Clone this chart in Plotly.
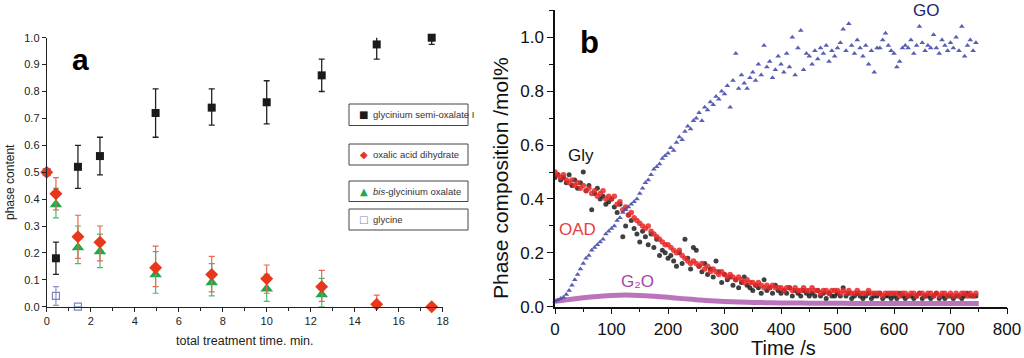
import plotly.graph_objects as go

# ---------------- Panel a data ----------------
gso_x = [0.42, 1.42, 2.42, 4.95, 7.5, 10, 12.5, 15, 17.5]
gso_y = [0.18, 0.52, 0.56, 0.72, 0.74, 0.76, 0.86, 0.975, 1.0]
gso_hi = [0.24, 0.60, 0.63, 0.81, 0.81, 0.84, 0.92, 1.025, 1.025]
gso_lo = [0.12, 0.44, 0.49, 0.63, 0.675, 0.68, 0.80, 0.92, 0.975]

oad_x = [0, 0.42, 1.42, 2.42, 4.95, 7.5, 10, 12.5, 15, 17.5]
oad_y = [0.50, 0.42, 0.26, 0.24, 0.145, 0.12, 0.104, 0.074, 0.009, 0.0]
oad_hi = [0.50, 0.48, 0.34, 0.30, 0.225, 0.187, 0.155, 0.135, 0.043, 0.0]
oad_lo = [0.50, 0.36, 0.18, 0.17, 0.075, 0.055, 0.05, 0.02, 0.0, 0.0]

bgo_x = [0.42, 1.42, 2.42, 4.95, 7.5, 10, 12.5]
bgo_y = [0.38, 0.22, 0.205, 0.12, 0.09, 0.067, 0.045]
bgo_hi = [0.44, 0.30, 0.27, 0.205, 0.16, 0.12, 0.105]
bgo_lo = [0.33, 0.16, 0.145, 0.05, 0.04, 0.02, 0.0]

gly_x = [0, 0.42, 1.42]
gly_y = [0.50, 0.04, 0.0]
gly_hi = [0.50, 0.075, 0.0]
gly_lo = [0.50, 0.005, 0.0]

legend_a = ["glycinium semi-oxalate I", "oxalic acid dihydrate",
            "<i>bis</i>-glycinium oxalate", "glycine"]
legend_sym = ["■", "◆", "▲", "□"]

# ---------------- Panel b data ----------------
t_go = [5 * i for i in range(150)]
go_v = [0.02, 0.025, 0.03, 0.035, 0.045, 0.06, 0.08, 0.10, 0.12, 0.14,
        0.16, 0.18, 0.19, 0.21, 0.22, 0.23, 0.24, 0.25, 0.27, 0.28,
        0.29, 0.30, 0.32, 0.33, 0.35, 0.36, 0.37, 0.38, 0.39, 0.40,
        0.42, 0.44, 0.46, 0.47, 0.49, 0.51, 0.52, 0.53, 0.55, 0.56,
        0.57, 0.59, 0.58, 0.61, 0.63, 0.62, 0.65, 0.67, 0.66, 0.69,
        0.70, 0.72, 0.69, 0.74, 0.73, 0.76, 0.75, 0.78, 0.77, 0.80,
        0.79, 0.82, 0.74, 0.84, 0.94, 0.81, 0.86, 0.83, 0.81, 0.85,
        0.87, 0.84, 0.90, 0.86, 0.97, 0.89, 0.91, 0.85, 0.88, 0.93,
        0.90, 0.87, 0.94, 0.89, 1.00, 0.86, 0.96, 1.025, 0.88, 0.94,
        0.93, 0.90, 0.95, 0.92, 0.96, 0.94, 0.97, 0.91, 0.95, 0.93,
        0.96, 0.98, 1.03, 0.95, 1.05, 0.97, 0.94, 0.99, 0.96, 0.93,
        0.97, 0.90, 0.95, 0.87, 0.96, 0.96, 0.99, 1.015, 0.97, 0.95,
        0.94, 0.89, 0.91, 0.96, 0.97, 0.96, 0.99, 0.94, 0.97, 1.04,
        0.98, 0.95, 0.97, 0.96, 1.01, 0.96, 0.94, 0.99, 0.97, 0.95,
        0.98, 0.96, 1.00, 0.95, 1.04, 0.93, 0.97, 0.99, 0.95, 0.98]

t_gly = [5 * i for i in range(150)]
gly_v = [0.48, 0.49, 0.47, 0.48, 0.46, 0.49, 0.45, 0.47, 0.44, 0.46,
         0.50, 0.43, 0.45, 0.36, 0.42, 0.44, 0.40, 0.41, 0.38, 0.39,
         0.40, 0.37, 0.35, 0.38, 0.26, 0.30, 0.34, 0.32, 0.29, 0.27,
         0.24, 0.28, 0.26, 0.23, 0.27, 0.22, 0.25, 0.19, 0.21, 0.20,
         0.18, 0.19, 0.17, 0.15, 0.20, 0.16, 0.25, 0.18, 0.14, 0.22,
         0.21, 0.15, 0.13, 0.16, 0.12, 0.14, 0.11, 0.17, 0.13, 0.09,
         0.12, 0.10, 0.11, 0.08, 0.10, 0.07, 0.09, 0.11, 0.08, 0.07,
         0.06, 0.08, 0.07, 0.05, 0.10, 0.06, 0.07, 0.05, 0.08, 0.06,
         0.05, 0.06, 0.05, 0.07, 0.04, 0.06, 0.05, 0.04, 0.06, 0.05,
         0.04, 0.05, 0.04, 0.06, 0.04, 0.05, 0.03, 0.05, 0.04, 0.04,
         0.05, 0.04, 0.07, 0.04, 0.05, 0.03, 0.04, 0.05, 0.04, 0.03,
         0.04, 0.05, 0.03, 0.04, 0.04, 0.05, 0.03, 0.04, 0.04, 0.03,
         0.04, 0.03, 0.05, 0.04, 0.03, 0.04, 0.04, 0.03, 0.04, 0.05,
         0.03, 0.04, 0.04, 0.03, 0.04, 0.05, 0.03, 0.04, 0.03, 0.04,
         0.04, 0.03, 0.04, 0.04, 0.03, 0.04, 0.05, 0.04, 0.04, 0.04]

t_oad = [5 * i for i in range(150)]
oad_v = [0.50, 0.49, 0.48, 0.49, 0.47, 0.46, 0.47, 0.45, 0.46, 0.44,
         0.45, 0.43, 0.44, 0.42, 0.43, 0.41, 0.42, 0.43, 0.40, 0.41,
         0.40, 0.41, 0.38, 0.39, 0.36, 0.37, 0.34, 0.35, 0.33, 0.32,
         0.31, 0.30, 0.29, 0.30, 0.28, 0.27, 0.26, 0.25, 0.24, 0.23,
         0.23, 0.22, 0.21, 0.20, 0.21, 0.19, 0.18, 0.17, 0.16, 0.17,
         0.16, 0.15, 0.16, 0.14, 0.15, 0.13, 0.14, 0.13, 0.12, 0.13,
         0.12, 0.11, 0.12, 0.11, 0.10, 0.11, 0.10, 0.09, 0.10, 0.09,
         0.09, 0.08, 0.09, 0.08, 0.07, 0.08, 0.07, 0.08, 0.07, 0.07,
         0.07, 0.06, 0.07, 0.07, 0.06, 0.07, 0.06, 0.06, 0.07, 0.06,
         0.06, 0.07, 0.06, 0.06, 0.05, 0.06, 0.06, 0.05, 0.06, 0.06,
         0.06, 0.05, 0.06, 0.05, 0.06, 0.05, 0.05, 0.06, 0.05, 0.05,
         0.05, 0.06, 0.05, 0.05, 0.05, 0.05, 0.04, 0.05, 0.05, 0.05,
         0.05, 0.05, 0.04, 0.05, 0.05, 0.04, 0.05, 0.05, 0.04, 0.05,
         0.05, 0.04, 0.05, 0.05, 0.04, 0.05, 0.04, 0.05, 0.05, 0.04,
         0.05, 0.04, 0.05, 0.04, 0.05, 0.05, 0.04, 0.05, 0.04, 0.05]

t_g2o = [25 * i for i in range(31)]
g2o_v = [0.020, 0.027, 0.033, 0.038, 0.042, 0.043, 0.042, 0.039, 0.035, 0.030,
         0.026, 0.022, 0.019, 0.017, 0.016, 0.015, 0.014, 0.014, 0.013, 0.013,
         0.013, 0.012, 0.012, 0.012, 0.012, 0.012, 0.012, 0.012, 0.012, 0.012, 0.012]

W, H = 1024, 358


def px(x):
    return x / W


def py(y):
    return 1 - y / H


FONT = "Liberation Sans, Arial, sans-serif"

fig = go.Figure()


def err(y, hi, lo):
    return [h - v for v, h in zip(y, hi)], [v - l for v, l in zip(y, lo)]


# Panel a traces
up, dn = err(gly_y, gly_hi, gly_lo)
fig.add_trace(go.Scatter(x=gly_x, y=gly_y, mode="markers", xaxis="x", yaxis="y",
                         marker=dict(symbol="square-open", size=7, color="#7a86bc", line=dict(width=1.2)),
                         error_y=dict(type="data", array=up, arrayminus=dn, color="#8a94c4", thickness=1.2, width=3),
                         cliponaxis=False, showlegend=False))
up, dn = err(bgo_y, bgo_hi, bgo_lo)
fig.add_trace(go.Scatter(x=bgo_x, y=bgo_y, mode="markers", xaxis="x", yaxis="y",
                         marker=dict(symbol="triangle-up", size=11, color="#22a84a"),
                         error_y=dict(type="data", array=up, arrayminus=dn, color="#4cb870", thickness=1.2, width=3),
                         cliponaxis=False, showlegend=False))
up, dn = err(oad_y, oad_hi, oad_lo)
fig.add_trace(go.Scatter(x=oad_x, y=oad_y, mode="markers", xaxis="x", yaxis="y",
                         marker=dict(symbol="diamond", size=10, color="#e8381c"),
                         error_y=dict(type="data", array=up, arrayminus=dn, color="#e46a50", thickness=1.2, width=3),
                         cliponaxis=False, showlegend=False))
up, dn = err(gso_y, gso_hi, gso_lo)
fig.add_trace(go.Scatter(x=gso_x, y=gso_y, mode="markers", xaxis="x", yaxis="y",
                         marker=dict(symbol="square", size=8, color="#1a1a1a"),
                         error_y=dict(type="data", array=up, arrayminus=dn, color="#222222", thickness=1.3, width=3),
                         cliponaxis=False, showlegend=False))

# Panel b traces
fig.add_trace(go.Scatter(x=t_g2o, y=g2o_v, mode="lines", xaxis="x2", yaxis="y2",
                         line=dict(color="rgba(170,80,170,0.8)", width=5, shape="spline"),
                         showlegend=False))
fig.add_trace(go.Scatter(x=t_gly, y=gly_v, mode="markers", xaxis="x2", yaxis="y2",
                         marker=dict(symbol="circle", size=5, color="rgba(30,30,30,0.85)"),
                         showlegend=False))
fig.add_trace(go.Scatter(x=t_oad, y=oad_v, mode="markers", xaxis="x2", yaxis="y2",
                         marker=dict(symbol="circle", size=5.5, color="rgba(232,40,40,0.85)"),
                         showlegend=False))
fig.add_trace(go.Scatter(x=t_go, y=go_v, mode="markers", xaxis="x2", yaxis="y2",
                         marker=dict(symbol="triangle-up", size=5, color="rgba(70,78,170,0.9)"),
                         cliponaxis=False, showlegend=False))

axis_a = dict(showgrid=False, zeroline=False, showline=True, linecolor="#222", linewidth=1,
              ticks="outside", ticklen=4, tickcolor="#222", automargin=False,
              tickfont=dict(family=FONT, size=11, color="#222"))
axis_b = dict(showgrid=False, zeroline=False, showline=True, linecolor="#111", linewidth=1.5,
              ticks="outside", ticklen=6, tickwidth=1.3, tickcolor="#111", automargin=False,
              tickfont=dict(family=FONT, size=17, color="#111"))

shapes = []
annotations = []


def label(x, y, text, size, color, angle=0, family=FONT, anchor="center"):
    return dict(xref="paper", yref="paper", x=px(x), y=py(y), text=text, textangle=angle,
                showarrow=False, xanchor=anchor, yanchor="middle",
                font=dict(family=family, size=size, color=color))


# legend boxes of panel a
box_y = [(104, 125.5), (144, 165), (181, 201.5), (209, 230)]
for (y0, y1), sym, lab, col in zip(box_y, legend_sym, legend_a,
                                   ["#1a1a1a", "#e8381c", "#22a84a", "#7a86bc"]):
    shapes.append(dict(type="rect", xref="paper", yref="paper",
                       x0=px(349), x1=px(468), y0=py(y1), y1=py(y0),
                       line=dict(color="#444", width=1), fillcolor="white"))
    annotations.append(label(363.5, (y0 + y1) / 2, sym, 10, col, family="DejaVu Sans"))
    annotations.append(label(371, (y0 + y1) / 2, lab, 9.5, "#333", anchor="left"))

# titles / labels
annotations += [
    label(10, 182, "phase content", 12, "#222", angle=-90),
    label(245, 341, "total treatment time. min.", 12.5, "#222"),
    label(80, 60, "<b>a</b>", 30, "#000"),
    label(500, 178, "Phase composition /mol%", 21, "#111", angle=-90),
    label(783, 348, "Time /s", 20, "#111"),
    label(589, 42, "<b>b</b>", 31, "#000"),
    label(581, 155, "Gly", 17, "#111"),
    label(577, 229, "OAD", 17, "#e84040"),
    label(637, 281, "G\u2082O", 17, "#a444a4"),
    label(926, 10, "GO", 17, "#22226e"),
]

fig.update_layout(
    template="none",
    width=W, height=H, margin=dict(l=0, r=0, t=0, b=0, pad=0), autosize=False,
    paper_bgcolor="white", plot_bgcolor="white",
    xaxis=dict(axis_a, domain=[px(46.7), px(442.7)], range=[0, 18], dtick=2,
               minor=dict(ticks="outside", ticklen=3, dtick=1, tickcolor="#222"), anchor="y"),
    yaxis=dict(axis_a, domain=[py(306.7), py(37.7)], range=[0, 1.0], dtick=0.1,
               tickformat=".1f", anchor="x"),
    xaxis2=dict(axis_b, domain=[px(555), px(1007)], range=[0, 800], dtick=100,
                minor=dict(ticks="outside", ticklen=4, dtick=50, tickcolor="#111"), anchor="y2"),
    yaxis2=dict(axis_b, domain=[py(306.7), py(10.4)], range=[0, 1.1], tickvals=[0, 0.2, 0.4, 0.6, 0.8, 1.0],
                tickformat=".1f",
                minor=dict(ticks="outside", ticklen=4, tickvals=[0.1, 0.3, 0.5, 0.7, 0.9, 1.1], tickcolor="#111"),
                anchor="x2"),
    shapes=shapes, annotations=annotations,
)

fig.write_html("out.html", config={"displayModeBar": False},
               post_script="document.body.style.margin='0';document.body.style.overflow='hidden';")
